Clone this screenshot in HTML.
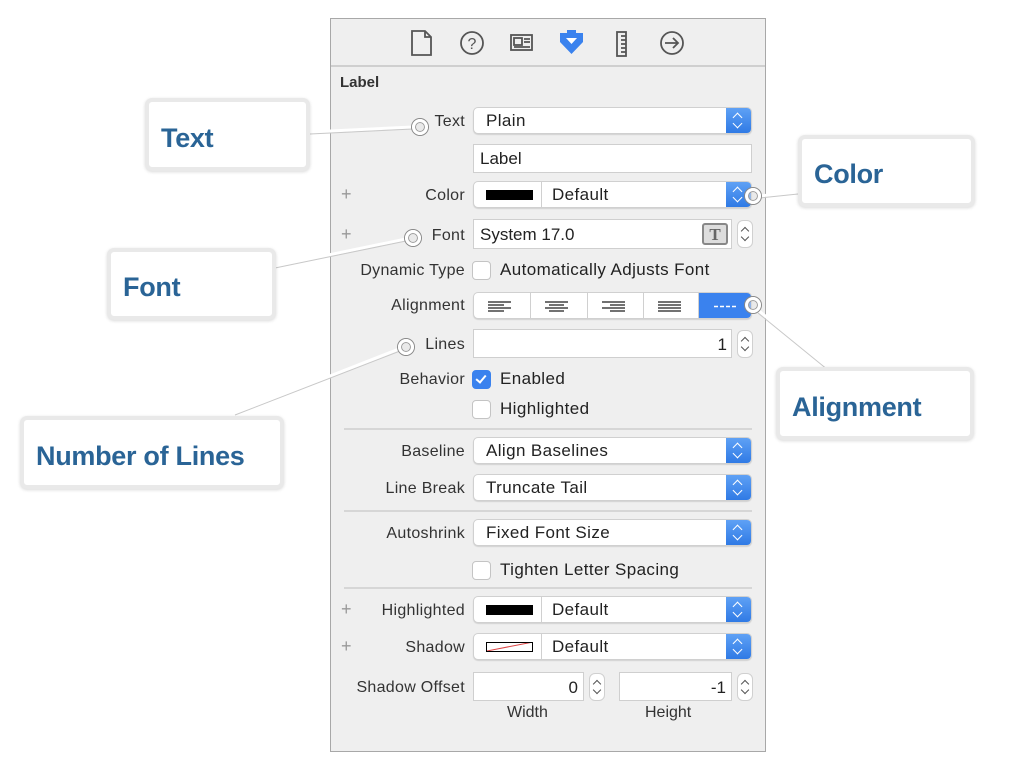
<!DOCTYPE html>
<html><head><meta charset="utf-8"><style>
*{margin:0;padding:0;box-sizing:border-box}
body{width:1022px;height:762px;background:#fff;position:relative;overflow:hidden;font-family:"Liberation Sans",sans-serif}
.a{position:absolute}
#panel{left:330px;top:18px;width:436px;height:734px;background:#efefef;border:1px solid #a8a8a8}
.lbl{position:absolute;right:557px;font-size:16px;color:#333;text-align:right;white-space:nowrap;letter-spacing:0.3px}
.pop{position:absolute;left:473px;width:279px;height:27px;background:#fff;border:1px solid #d0d0d0;border-radius:5px;box-shadow:0 1px 1px rgba(0,0,0,.12);overflow:hidden;font-size:17px;color:#222}
.pop .t{position:absolute;left:12px;top:3px;white-space:nowrap;letter-spacing:0.4px}
.pop .b{position:absolute;right:0;top:0;width:25px;height:100%;background:linear-gradient(#5fa1f5,#2f7ae5)}
.pop .b:before{content:"";position:absolute;left:8px;top:6px;width:6px;height:6px;border-left:1.5px solid #fff;border-top:1.5px solid #fff;transform:rotate(45deg)}
.pop .b:after{content:"";position:absolute;left:8px;bottom:6px;width:6px;height:6px;border-left:1.5px solid #fff;border-bottom:1.5px solid #fff;transform:rotate(-45deg)}
.fld{position:absolute;background:#fff;border:1px solid #cfcfcf;font-size:17px;color:#222}
.stp{position:absolute;width:16px;height:28px;background:#fff;border:1px solid #d0d0d0;border-radius:6px}
.stp:before{content:"";position:absolute;left:4px;top:7px;width:5px;height:5px;border-left:1.3px solid #555;border-top:1.3px solid #555;transform:rotate(45deg)}
.stp:after{content:"";position:absolute;left:4px;bottom:7px;width:5px;height:5px;border-left:1.3px solid #555;border-bottom:1.3px solid #555;transform:rotate(-45deg)}
.cb{position:absolute;left:472px;width:19px;height:19px;background:#fff;border:1px solid #c4c4c4;border-radius:4px}
.ct{position:absolute;left:500px;font-size:17px;color:#222;white-space:nowrap;letter-spacing:0.4px}
.sep{position:absolute;left:344px;width:408px;height:2px;background:#d6d6d6}
.plus{position:absolute;left:341px;font-size:18px;color:#999}
.sw{position:absolute;left:12px;top:8px;width:47px;height:10px;background:#000}
.dv{position:absolute;left:67px;top:0;width:1px;height:100%;background:#d0d0d0}
.call{position:absolute;background:#fff;border:4px solid #e9e9e9;border-radius:7px;box-shadow:0 1px 3px rgba(0,0,0,.15);font-size:27px;font-weight:bold;color:#2a6496;letter-spacing:-0.3px}
.call span{position:absolute;left:12px;bottom:13px;white-space:nowrap}
.dot{position:absolute;width:16px;height:16px;border-radius:50%;border:3px solid #fff;box-shadow:0 0 0 1px #888, inset 0 0 0 1px #999;background:rgba(230,230,230,.5)}
</style></head><body>
<div id="panel" class="a"></div>
<div class="a" style="left:331px;top:65px;width:434px;height:2px;background:#cfcfcf"></div>
<svg class="a" style="left:400px;top:24px" width="300" height="36" viewBox="0 0 300 36">
<g fill="none" stroke="#555" stroke-width="1.8">
<path d="M12 7h13l6 6v18H12z M25 7v6h6"/>
<circle cx="72" cy="19" r="11"/>
<rect x="111" y="11" width="21" height="15"/><rect x="114" y="14" width="8" height="7"/><path d="M124 15h6M124 18h6M114 23h16"/>
<rect x="217" y="8" width="9" height="24"/><path d="M221 12h5M221 16h5M221 20h5M221 24h5M221 28h5"/>
<circle cx="272" cy="19" r="11"/><path d="M265 19h12M273 14l5 5-5 5"/>
</g>
<text x="72" y="25" font-size="16" text-anchor="middle" fill="#555" font-family="Liberation Sans">?</text>
<path d="M160 9h7v-3h9v3h7v9l-11.5 12-11.5-12z" fill="#3a82ee"/><path d="M166 14h11l-5.5 6z" fill="#fff"/>
</svg>
<div class="a" style="left:340px;top:74px;font-size:15px;font-weight:bold;color:#333">Label</div>

<div class="lbl" style="top:113px">Text</div>
<div class="pop" style="top:107px"><span class="t">Plain</span><span class="b"></span></div>
<div class="fld" style="left:473px;top:144px;width:279px;height:29px"><span class="a" style="left:6px;top:4px">Label</span></div>
<div class="plus" style="top:184px">+</div>
<div class="lbl" style="top:187px">Color</div>
<div class="pop" style="top:181px"><span class="sw"></span><span class="dv"></span><span class="t" style="left:78px">Default</span><span class="b"></span></div>
<div class="plus" style="top:224px">+</div>
<div class="lbl" style="top:227px">Font</div>
<div class="fld" style="left:473px;top:219px;width:259px;height:30px"><span class="a" style="left:6px;top:5px">System 17.0</span>
<span class="a" style="left:228px;top:3px;width:26px;height:22px;border:2px solid #888;border-radius:3px;background:#ddd;font-family:'Liberation Serif',serif;font-weight:bold;font-size:17px;color:#666;text-align:center;line-height:19px">T</span></div>
<div class="stp" style="left:737px;top:220px"></div>
<div class="lbl" style="top:262px">Dynamic Type</div>
<div class="cb" style="top:261px"></div>
<div class="ct" style="top:260px">Automatically Adjusts Font</div>
<div class="lbl" style="top:297px">Alignment</div>
<div class="a" style="left:473px;top:292px;width:279px;height:27px;background:#fff;border:1px solid #d0d0d0;border-radius:5px;overflow:hidden;box-shadow:0 1px 1px rgba(0,0,0,.12)">
<svg width="279" height="27" class="a" style="left:0;top:0">
<g stroke="#444" stroke-width="1.5">
<path d="M14 9h23M14 12h16M14 15h23M14 18h16"/>
<path d="M71 9h23M75 12h15M71 15h23M75 18h15"/>
<path d="M128 9h23M136 12h15M128 15h23M136 18h15"/>
<path d="M184 9h23M184 12h23M184 15h23M184 18h23"/>
</g>
<g stroke="#d0d0d0"><path d="M56.5 0v27M113.5 0v27M169.5 0v27M224.5 0v27"/></g>
<rect x="225" y="0" width="54" height="27" fill="#3a82ee"/>
<path d="M240 13.5h22" stroke="#fff" stroke-width="1.5" stroke-dasharray="4 2"/>
</svg></div>
<div class="lbl" style="top:336px">Lines</div>
<div class="fld" style="left:473px;top:329px;width:259px;height:29px"><span class="a" style="right:4px;top:5px">1</span></div>
<div class="stp" style="left:737px;top:330px"></div>
<div class="lbl" style="top:371px">Behavior</div>
<div class="cb" style="top:370px;background:#3a82ee;border-color:#3a82ee"><span class="a" style="left:5px;top:2px;width:6px;height:10px;border-right:2px solid #fff;border-bottom:2px solid #fff;transform:rotate(40deg)"></span></div>
<div class="ct" style="top:369px">Enabled</div>
<div class="cb" style="top:400px"></div>
<div class="ct" style="top:399px">Highlighted</div>
<div class="sep" style="top:428px"></div>
<div class="lbl" style="top:443px">Baseline</div>
<div class="pop" style="top:437px"><span class="t">Align Baselines</span><span class="b"></span></div>
<div class="lbl" style="top:480px">Line Break</div>
<div class="pop" style="top:474px"><span class="t">Truncate Tail</span><span class="b"></span></div>
<div class="sep" style="top:510px"></div>
<div class="lbl" style="top:525px">Autoshrink</div>
<div class="pop" style="top:519px"><span class="t">Fixed Font Size</span><span class="b"></span></div>
<div class="cb" style="top:561px"></div>
<div class="ct" style="top:560px">Tighten Letter Spacing</div>
<div class="sep" style="top:587px"></div>
<div class="plus" style="top:599px">+</div>
<div class="lbl" style="top:602px">Highlighted</div>
<div class="pop" style="top:596px"><span class="sw"></span><span class="dv"></span><span class="t" style="left:78px">Default</span><span class="b"></span></div>
<div class="plus" style="top:636px">+</div>
<div class="lbl" style="top:639px">Shadow</div>
<div class="pop" style="top:633px"><span class="sw" style="background:#fff;border:1.5px solid #000;overflow:hidden"><span class="a" style="left:-3px;top:3px;width:52px;height:1px;background:#d44;transform:rotate(-11deg)"></span></span><span class="dv"></span><span class="t" style="left:78px">Default</span><span class="b"></span></div>
<div class="lbl" style="top:679px">Shadow Offset</div>
<div class="fld" style="left:473px;top:672px;width:111px;height:29px"><span class="a" style="right:5px;top:5px">0</span></div>
<div class="stp" style="left:589px;top:673px"></div>
<div class="fld" style="left:619px;top:672px;width:113px;height:29px"><span class="a" style="right:5px;top:5px">-1</span></div>
<div class="stp" style="left:737px;top:673px"></div>
<div class="a" style="left:507px;top:704px;font-size:16px;color:#333">Width</div>
<div class="a" style="left:645px;top:704px;font-size:16px;color:#333">Height</div>

<svg class="a" style="left:0;top:0" width="1022" height="762">
<g stroke="#fff" stroke-width="3"><path d="M310 132L413 127M275 266L406 239M233 414L399 349M760 196L798 192M759 311L830 368"/></g>
<g stroke="#c8c8c8" stroke-width="1" fill="none"><path d="M310 134L413 129M275 268L406 241M235 415L400 351M760 198L798 194M758 313L828 370"/></g>
</svg>
<div class="dot" style="left:412px;top:119px"></div>
<div class="dot" style="left:405px;top:230px"></div>
<div class="dot" style="left:398px;top:339px"></div>
<div class="dot" style="left:745px;top:188px"></div>
<div class="dot" style="left:745px;top:297px"></div>

<div class="call" style="left:145px;top:98px;width:165px;height:73px"><span>Text</span></div>
<div class="call" style="left:798px;top:135px;width:177px;height:72px"><span>Color</span></div>
<div class="call" style="left:107px;top:248px;width:169px;height:72px"><span>Font</span></div>
<div class="call" style="left:776px;top:367px;width:198px;height:73px"><span>Alignment</span></div>
<div class="call" style="left:20px;top:416px;width:264px;height:73px"><span>Number of Lines</span></div>
</body></html>
